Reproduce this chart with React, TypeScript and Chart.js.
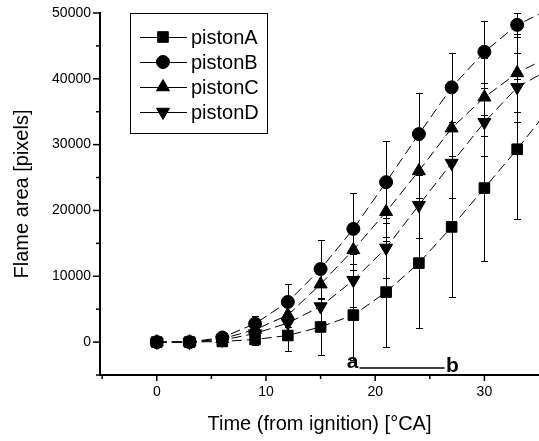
import React, { useEffect, useRef } from 'react';
import { Chart, registerables } from 'chart.js';
import { drawPoint } from 'chart.js/helpers';

Chart.register(...registerables);

// ---- data ----
const TIMES = [0, 3, 6, 9, 12, 15, 18, 21, 24, 27, 30, 33, 36];
const PISTON_A = [0, 0, 100, 400, 1000, 2300, 4100, 7600, 12000, 17500, 23400, 29300, 35600];
const PISTON_B = [0, 0, 700, 2800, 6100, 11100, 17200, 24300, 31600, 38700, 44100, 48200, 50600];
const PISTON_C = [0, 0, 500, 1900, 4100, 8800, 14000, 19800, 26000, 32500, 37200, 40900, 43400];
const PISTON_D = [0, 0, 300, 1300, 2900, 5400, 9400, 14300, 20800, 27200, 33400, 38700, 41500];
const ERR_A = [100, 100, 300, 800, 2300, 4300, 6800, 8300, 9900, 10700, 11100, 10600, 10000];
const ERR_B = [150, 150, 300, 1100, 2700, 4400, 5400, 6200, 6200, 5200, 4700, 1800, 1500];
const ERR_C = [100, 100, 300, 900, 1800, 3200, 4000, 4500, 5000, 5500, 5900, 5900, 5900];
const ERR_D = [100, 100, 300, 800, 1800, 3000, 4000, 4500, 5000, 5300, 5200, 5200, 5200];
const SERIES_NAMES = ['pistonA', 'pistonB', 'pistonC', 'pistonD'];
const X_TICK_LABELS = [0, 10, 20, 30];
const X_MINOR_TICKS = [-5, 5, 15, 25];
const Y_TICK_LABELS = [0, 10000, 20000, 30000, 40000, 50000];
const Y_MINOR_TICKS = [-5000, 5000, 15000, 25000, 35000, 45000];
const X_TITLE = 'Time (from ignition) [\u00B0CA]';
const Y_TITLE = 'Flame area [pixels]';
// annotation "a ---- b" in data coordinates
const ANNOT_A = { text: 'a', x: 17.93, y: -3030 };
const ANNOT_B = { text: 'b', x: 27.08, y: -3640 };
const ANNOT_LINE = { x1: 18.57, x2: 26.35, y: -3940 };

const FONT = '"Liberation Sans", Arial, sans-serif';

const SERIES_VALUES = [PISTON_A, PISTON_B, PISTON_C, PISTON_D];
const SERIES_ERRS = [ERR_A, ERR_B, ERR_C, ERR_D];
const STYLES = [
  { pointStyle: 'rect', radius: 7.5, rotation: 0 },
  { pointStyle: 'circle', radius: 6.5, rotation: 0 },
  { pointStyle: 'triangle', radius: 7.5, rotation: 0 },
  { pointStyle: 'triangle', radius: 7.5, rotation: 180 },
];

const errorBarPlugin = {
  id: 'errorBars',
  beforeDatasetsDraw(chart: any) {
    const { ctx, chartArea, scales } = chart;
    ctx.save();
    ctx.beginPath();
    ctx.rect(chartArea.left, chartArea.top - 2, chartArea.right - chartArea.left, chartArea.bottom - chartArea.top + 2);
    ctx.clip();
    ctx.strokeStyle = '#000';
    ctx.lineWidth = 1;
    SERIES_VALUES.forEach((vals, si) => {
      const errs = SERIES_ERRS[si];
      vals.forEach((v, i) => {
        const x = Math.round(scales.x.getPixelForValue(TIMES[i])) + 0.5;
        const yTop = Math.round(scales.y.getPixelForValue(v + errs[i])) + 0.5;
        const yBot = Math.round(scales.y.getPixelForValue(v - errs[i])) + 0.5;
        ctx.beginPath();
        ctx.moveTo(x, yTop);
        ctx.lineTo(x, yBot);
        ctx.moveTo(x - 3.5, yTop);
        ctx.lineTo(x + 3.5, yTop);
        ctx.moveTo(x - 3.5, yBot);
        ctx.lineTo(x + 3.5, yBot);
        ctx.stroke();
      });
    });
    ctx.restore();
  },
};

const tickMarkPlugin = {
  id: 'tickMarks',
  afterDraw(chart: any) {
    const { ctx, chartArea, scales } = chart;
    ctx.save();
    ctx.strokeStyle = '#000';
    ctx.lineWidth = 1.5;
    const xTick = (v: number, len: number) => {
      const x = scales.x.getPixelForValue(v);
      ctx.beginPath();
      ctx.moveTo(x, chartArea.bottom);
      ctx.lineTo(x, chartArea.bottom + len);
      ctx.stroke();
    };
    const yTick = (v: number, len: number) => {
      const y = scales.y.getPixelForValue(v);
      ctx.beginPath();
      ctx.moveTo(chartArea.left, y);
      ctx.lineTo(chartArea.left - len, y);
      ctx.stroke();
    };
    X_TICK_LABELS.forEach((v) => xTick(v, 6));
    X_MINOR_TICKS.forEach((v) => xTick(v, 4));
    Y_TICK_LABELS.forEach((v) => yTick(v, 7));
    Y_MINOR_TICKS.forEach((v) => yTick(v, 4));
    ctx.restore();
  },
};

const legendPlugin = {
  id: 'boxLegend',
  afterDraw(chart: any) {
    const { ctx } = chart;
    const left = 130, top = 13, w = 137, h = 120;
    ctx.save();
    ctx.strokeStyle = '#000';
    ctx.lineWidth = 1;
    ctx.strokeRect(left + 0.5, top + 0.5, w, h);
    ctx.font = `20px ${FONT}`;
    ctx.textBaseline = 'middle';
    ctx.textAlign = 'left';
    SERIES_NAMES.forEach((name, i) => {
      const y = top + 24 + i * 25;
      ctx.strokeStyle = '#000';
      ctx.lineWidth = 1;
      ctx.beginPath();
      ctx.moveTo(left + 10, y + 0.5);
      ctx.lineTo(left + 57, y + 0.5);
      ctx.stroke();
      ctx.fillStyle = '#000';
      const st = STYLES[i];
      drawPoint(ctx, { pointStyle: st.pointStyle as any, rotation: st.rotation, radius: st.radius, borderWidth: 1 }, left + 33, y);
      ctx.fillStyle = '#000';
      ctx.fillText(name, left + 61, y + 1);
    });
    ctx.restore();
  },
};

const annotationPlugin = {
  id: 'abAnnotation',
  afterDatasetsDraw(chart: any) {
    const { ctx, scales } = chart;
    ctx.save();
    ctx.fillStyle = '#000';
    ctx.strokeStyle = '#000';
    ctx.font = `bold 21px ${FONT}`;
    ctx.textAlign = 'center';
    ctx.textBaseline = 'middle';
    ctx.fillText(ANNOT_A.text, scales.x.getPixelForValue(ANNOT_A.x), scales.y.getPixelForValue(ANNOT_A.y));
    ctx.fillText(ANNOT_B.text, scales.x.getPixelForValue(ANNOT_B.x), scales.y.getPixelForValue(ANNOT_B.y));
    ctx.lineWidth = 1.5;
    const ly = scales.y.getPixelForValue(ANNOT_LINE.y);
    ctx.beginPath();
    ctx.moveTo(scales.x.getPixelForValue(ANNOT_LINE.x1), ly);
    ctx.lineTo(scales.x.getPixelForValue(ANNOT_LINE.x2), ly);
    ctx.stroke();
    ctx.restore();
  },
};

export default function App() {
  const ref = useRef<HTMLCanvasElement | null>(null);
  useEffect(() => {
    document.body.style.margin = '0';
    const canvas = ref.current;
    if (!canvas) return;
    const datasets = SERIES_NAMES.map((name, si) => ({
      label: name,
      data: TIMES.map((t, i) => ({ x: t, y: SERIES_VALUES[si][i] })),
      showLine: true,
      borderColor: '#000',
      borderWidth: 1,
      borderDash: [10, 5],
      backgroundColor: '#000',
      pointStyle: STYLES[si].pointStyle,
      pointRotation: STYLES[si].rotation,
      pointRadius: STYLES[si].radius,
      pointBorderWidth: 1,
      pointBorderColor: '#000',
      pointBackgroundColor: '#000',
    }));
    const chart = new Chart(canvas, {
      type: 'scatter',
      data: { datasets } as any,
      plugins: [errorBarPlugin, annotationPlugin, tickMarkPlugin, legendPlugin],
      options: {
        animation: false,
        responsive: false,
        devicePixelRatio: 1,
        layout: { autoPadding: false, padding: { top: 13, right: 0, bottom: 0, left: 0 } },
        plugins: { legend: { display: false }, tooltip: { enabled: false } },
        scales: {
          x: {
            type: 'linear',
            min: -5.2,
            max: 35,
            afterBuildTicks: (s: any) => { s.ticks = X_TICK_LABELS.map((v) => ({ value: v })); },
            afterFit: (s: any) => { s.height = 66; s.paddingLeft = 0; s.paddingRight = 0; },
            grid: { display: false, drawOnChartArea: false, drawTicks: false },
            border: { display: true, color: '#000', width: 2 },
            ticks: { color: '#000', padding: 9, autoSkip: false, maxRotation: 0, font: { family: FONT, size: 14 }, callback: (v: any) => String(v) },
            title: { display: true, text: X_TITLE, color: '#000', font: { family: FONT, size: 20 }, padding: { top: 0, bottom: 5 } },
          },
          y: {
            type: 'linear',
            min: -5000,
            max: 50000,
            afterBuildTicks: (s: any) => { s.ticks = Y_TICK_LABELS.map((v) => ({ value: v })); },
            afterFit: (s: any) => { s.width = 100; s.paddingTop = 0; s.paddingBottom = 0; },
            grid: { display: false, drawOnChartArea: false, drawTicks: false },
            border: { display: true, color: '#000', width: 2 },
            ticks: { color: '#000', padding: 9, autoSkip: false, font: { family: FONT, size: 14 }, callback: (v: any) => String(v) },
            title: { display: true, text: Y_TITLE, color: '#000', font: { family: FONT, size: 20 }, padding: { top: 10, bottom: 0 } },
          },
        },
      } as any,
    });
    return () => chart.destroy();
  }, []);
  return <canvas ref={ref} width={539} height={441} style={{ display: 'block' }} />;
}
